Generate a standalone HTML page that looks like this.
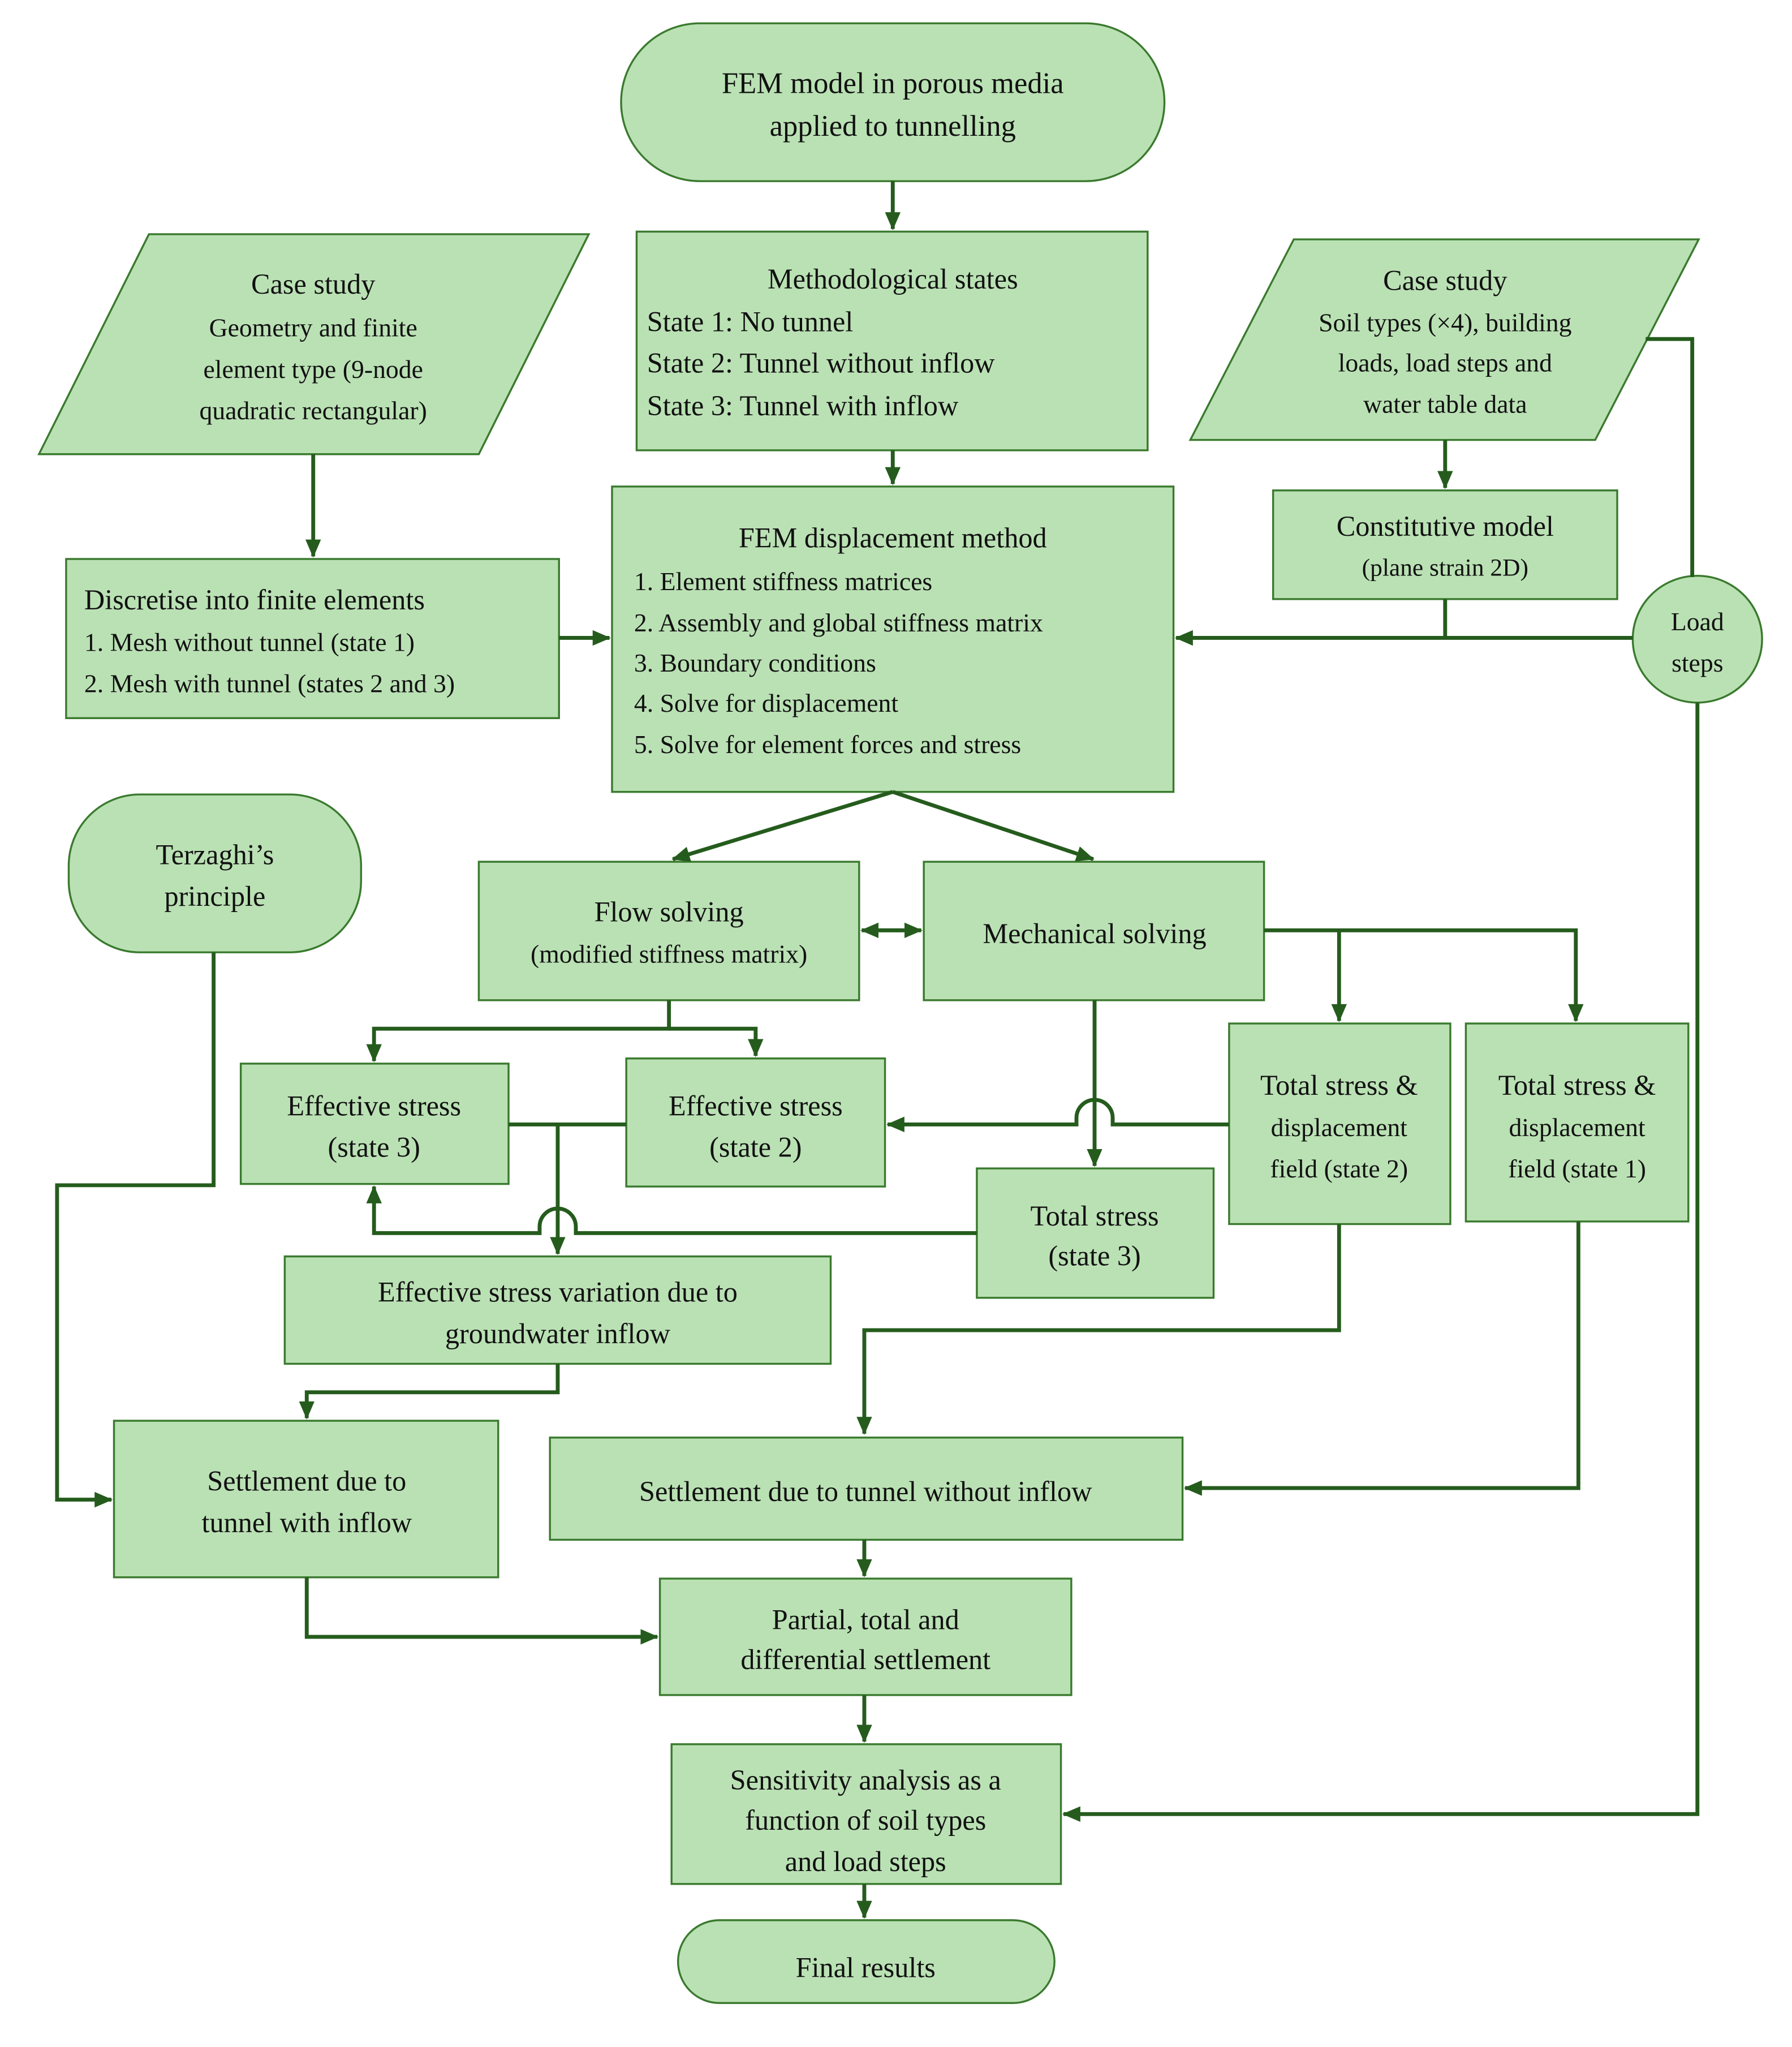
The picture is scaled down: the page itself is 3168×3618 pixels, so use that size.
<!DOCTYPE html>
<html><head><meta charset="utf-8"><style>html,body{margin:0;padding:0;background:#fff}svg{display:block}</style></head><body>
<svg xmlns="http://www.w3.org/2000/svg" width="3168" height="3618" viewBox="0 0 1385 1582">
<defs><marker id="a" markerWidth="14" markerHeight="12" refX="13" refY="6" orient="auto" markerUnits="userSpaceOnUse"><path d="M0,0 L14,6 L0,12 Z" fill="#255c1d"/></marker></defs>
<g fill="#bae1b4" stroke="#3a7a2e" stroke-width="1.5">
<rect x="480" y="18" width="420" height="122" rx="61"/>
<rect x="492" y="179" width="395" height="169"/>
<rect x="473" y="376" width="434" height="236"/>
<polygon points="115,181 455,181 370,351 30,351"/>
<rect x="51" y="432" width="381" height="123"/>
<polygon points="1000,185 1313,185 1233,340 920,340"/>
<rect x="984" y="379" width="266" height="84"/>
<ellipse cx="1312" cy="494" rx="50" ry="49"/>
<rect x="53" y="614" width="226" height="122" rx="55"/>
<rect x="370" y="666" width="294" height="107"/>
<rect x="714" y="666" width="263" height="107"/>
<rect x="950" y="791" width="171" height="155"/>
<rect x="1133" y="791" width="172" height="153"/>
<rect x="755" y="903" width="183" height="100"/>
<rect x="186" y="822" width="207" height="93"/>
<rect x="484" y="818" width="200" height="99"/>
<rect x="220" y="971" width="422" height="83"/>
<rect x="88" y="1098" width="297" height="121"/>
<rect x="425" y="1111" width="489" height="79"/>
<rect x="510" y="1220" width="318" height="90"/>
<rect x="519" y="1348" width="301" height="108"/>
<rect x="524" y="1484" width="291" height="64" rx="32"/>
</g>
<g fill="none" stroke="#255c1d" stroke-width="3">
<path d="M690 140V177" marker-end="url(#a)"/>
<path d="M690 348V374" marker-end="url(#a)"/>
<path d="M242 351V430" marker-end="url(#a)"/>
<path d="M432 493H471" marker-end="url(#a)"/>
<path d="M1117 340V377" marker-end="url(#a)"/>
<path d="M1117 463V493"/>
<path d="M1262 493H909" marker-end="url(#a)"/>
<path d="M1272 262H1308V446"/>
<path d="M1312 543V1402H822" marker-end="url(#a)"/>
<path d="M165 736V916H44V1159H86" marker-end="url(#a)"/>
<path d="M690 612L520 664" marker-end="url(#a)"/>
<path d="M690 612L845 664" marker-end="url(#a)"/>
<path d="M680 719H712" marker-end="url(#a)"/>
<path d="M698 719H666" marker-end="url(#a)"/>
<path d="M977 719H1218V789" marker-end="url(#a)"/>
<path d="M1035 719V789" marker-end="url(#a)"/>
<path d="M846 773V901" marker-end="url(#a)"/>
<path d="M517 773V795H289V820" marker-end="url(#a)"/>
<path d="M517 795H584V816" marker-end="url(#a)"/>
<path d="M950 869H860V864A14 14 0 0 0 832 864V869H686" marker-end="url(#a)"/>
<path d="M393 869H484"/>
<path d="M431 869V969" marker-end="url(#a)"/>
<path d="M755 953H445V948A14 14 0 0 0 417 948V953H289V917" marker-end="url(#a)"/>
<path d="M431 1054V1076H237V1096" marker-end="url(#a)"/>
<path d="M1035 946V1028H668V1108" marker-end="url(#a)"/>
<path d="M1220 944V1150H916" marker-end="url(#a)"/>
<path d="M668 1190V1218" marker-end="url(#a)"/>
<path d="M237 1219V1265H508" marker-end="url(#a)"/>
<path d="M668 1310V1346" marker-end="url(#a)"/>
<path d="M668 1456V1482" marker-end="url(#a)"/>
</g>
<g font-family="Liberation Serif, serif" font-size="22" fill="#111" text-anchor="middle">
<text x="690" y="72" font-size="23">FEM model in porous media</text>
<text x="690" y="105" font-size="23">applied to tunnelling</text>
<text x="690" y="223">Methodological states</text>
<text x="242" y="227">Case study</text>
<text x="242" y="260" font-size="20">Geometry and finite</text>
<text x="242" y="292" font-size="20">element type (9-node</text>
<text x="242" y="324" font-size="20">quadratic rectangular)</text>
<text x="1117" y="224">Case study</text>
<text x="1117" y="256" font-size="20">Soil types (×4), building</text>
<text x="1117" y="287" font-size="20">loads, load steps and</text>
<text x="1117" y="319" font-size="20">water table data</text>
<text x="1117" y="414">Constitutive model</text>
<text x="1117" y="445" font-size="19">(plane strain 2D)</text>
<text x="1312" y="487" font-size="20">Load</text>
<text x="1312" y="519" font-size="20">steps</text>
<text x="690" y="423">FEM displacement method</text>
<text x="166" y="668">Terzaghi’s</text>
<text x="166" y="700">principle</text>
<text x="517" y="712">Flow solving</text>
<text x="517" y="744" font-size="20">(modified stiffness matrix)</text>
<text x="846" y="729">Mechanical solving</text>
<text x="1035" y="846">Total stress &amp;</text>
<text x="1035" y="878" font-size="20">displacement</text>
<text x="1035" y="910" font-size="20">field (state 2)</text>
<text x="1219" y="846">Total stress &amp;</text>
<text x="1219" y="878" font-size="20">displacement</text>
<text x="1219" y="910" font-size="20">field (state 1)</text>
<text x="846" y="947">Total stress</text>
<text x="846" y="978">(state 3)</text>
<text x="289" y="862">Effective stress</text>
<text x="289" y="894">(state 3)</text>
<text x="584" y="862">Effective stress</text>
<text x="584" y="894">(state 2)</text>
<text x="431" y="1006">Effective stress variation due to</text>
<text x="431" y="1038">groundwater inflow</text>
<text x="237" y="1152">Settlement due to</text>
<text x="237" y="1184">tunnel with inflow</text>
<text x="669" y="1160">Settlement due to tunnel without inflow</text>
<text x="669" y="1259">Partial, total and</text>
<text x="669" y="1290">differential settlement</text>
<text x="669" y="1383">Sensitivity analysis as a</text>
<text x="669" y="1414">function of soil types</text>
<text x="669" y="1446">and load steps</text>
<text x="669" y="1528">Final results</text>
</g>
<g font-family="Liberation Serif, serif" font-size="22" fill="#111">
<text x="500" y="256">State 1: No tunnel</text>
<text x="500" y="288">State 2: Tunnel without inflow</text>
<text x="500" y="321">State 3: Tunnel with inflow</text>
<text x="65" y="471">Discretise into finite elements</text>
<text x="65" y="503" font-size="20">1. Mesh without tunnel (state 1)</text>
<text x="65" y="535" font-size="20">2. Mesh with tunnel (states 2 and 3)</text>
<text x="490" y="456" font-size="20">1. Element stiffness matrices</text>
<text x="490" y="488" font-size="20">2. Assembly and global stiffness matrix</text>
<text x="490" y="519" font-size="20">3. Boundary conditions</text>
<text x="490" y="550" font-size="20">4. Solve for displacement</text>
<text x="490" y="582" font-size="20">5. Solve for element forces and stress</text>
</g>
</svg>
</body></html>
